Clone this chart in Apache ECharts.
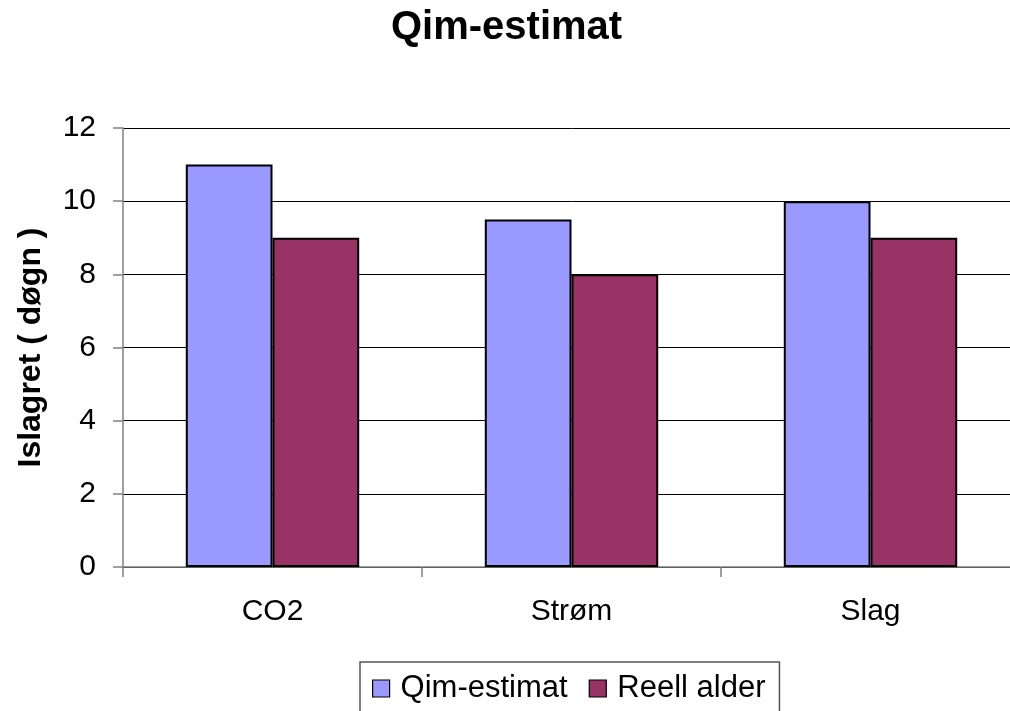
<!DOCTYPE html>
<html>
<head>
<meta charset="utf-8">
<script src="https://cdn.jsdelivr.net/npm/echarts@6/dist/echarts.min.js"></script>
<style>
  html, body { margin: 0; padding: 0; background: #fff; overflow: hidden; }
  #chart { width: 1022px; height: 711px; }
</style>
</head>
<body>
<div id="chart"></div>
<script>
// Storage time per category: Qim estimate vs. actual age
const categories = ['CO2', 'Strøm', 'Slag'];
const qimEstimat = [11, 9.5, 10];
const reellAlder = [9, 8, 9];
const yTicks = [0, 2, 4, 6, 8, 10, 12];

const font = '"Liberation Sans", Arial, sans-serif';

const chart = echarts.init(document.getElementById('chart'));
chart.setOption({
  animation: false,
  backgroundColor: '#ffffff',
  title: {
    text: 'Qim-estimat',
    left: 391,
    top: 8,
    padding: 0,
    textStyle: { fontFamily: font, fontSize: 40, fontWeight: 'bold', color: '#000' }
  },
  legend: {
    left: 360,
    top: 662,
    padding: [11, 14, 14, 12],
    borderColor: '#555',
    borderWidth: 1.5,
    itemWidth: 17,
    itemHeight: 17,
    itemGap: 21,
    icon: 'rect',
    itemStyle: { borderColor: '#000', borderWidth: 1.2 },
    textStyle: { fontFamily: font, fontSize: 31, color: '#000', padding: [0, 0, 0, 6] },
    data: ['Qim-estimat', 'Reell alder']
  },
  grid: {
    left: 123,
    top: 128,
    right: 2,
    height: 439,
    containLabel: false
  },
  xAxis: {
    type: 'category',
    data: categories,
    axisLine: { show: true, lineStyle: { color: '#808080', width: 1.5 } },
    axisTick: { show: true, length: 10, alignWithLabel: false, lineStyle: { color: '#808080', width: 1.5 } },
    axisLabel: { fontFamily: font, fontSize: 30, color: '#000', margin: 30 },
    splitLine: { show: false }
  },
  yAxis: {
    type: 'value',
    min: yTicks[0],
    max: yTicks[yTicks.length - 1],
    interval: 2,
    name: 'Islagret ( døgn )',
    nameLocation: 'middle',
    nameGap: 76,
    nameTextStyle: { fontFamily: font, fontSize: 32, fontWeight: 'bold', color: '#000' },
    axisLine: { show: true, lineStyle: { color: '#808080', width: 1.5 } },
    axisTick: { show: true, length: 10, lineStyle: { color: '#808080', width: 1.5 } },
    axisLabel: { fontFamily: font, fontSize: 30, color: '#000', margin: 27 },
    splitLine: { show: true, lineStyle: { color: '#000', width: 1 } }
  },
  series: [
    {
      name: 'Qim-estimat',
      type: 'bar',
      data: qimEstimat,
      barGap: '0%',
      barCategoryGap: '42%',
      itemStyle: { color: '#9999FF', borderColor: '#000', borderWidth: 2 }
    },
    {
      name: 'Reell alder',
      type: 'bar',
      data: reellAlder,
      itemStyle: { color: '#993366', borderColor: '#000', borderWidth: 2 }
    }
  ]
});
</script>
</body>
</html>
